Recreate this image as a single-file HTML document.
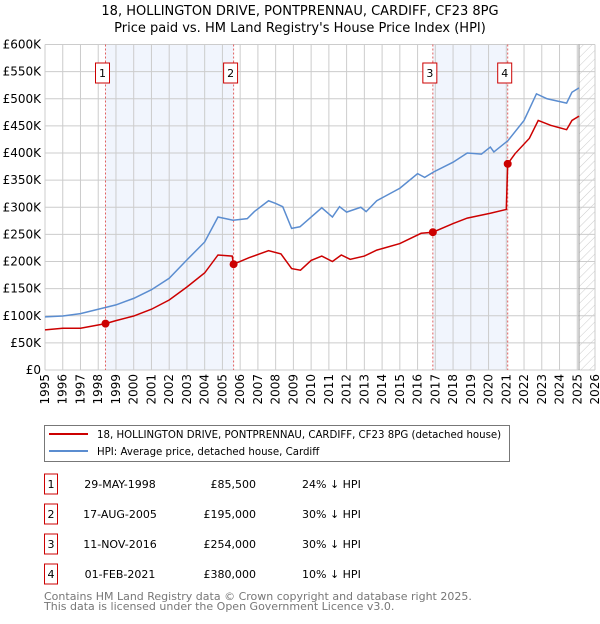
<!DOCTYPE html>
<html><head><meta charset="utf-8"><style>
body{margin:0;background:#fff;font-family:"DejaVu Sans","Liberation Sans",sans-serif;}
svg text{font-family:"DejaVu Sans","Liberation Sans",sans-serif;}
</style></head><body>
<svg id="chart" width="600" height="620" xmlns="http://www.w3.org/2000/svg">
<defs><pattern id="hatch" width="6" height="6" patternUnits="userSpaceOnUse" patternTransform="rotate(45)"><line x1="0" y1="0" x2="0" y2="6" stroke="#ccc" stroke-width="1"/></pattern></defs>
<text x="300" y="15" text-anchor="middle" font-size="13">18, HOLLINGTON DRIVE, PONTPRENNAU, CARDIFF, CF23 8PG</text>
<text x="300" y="32" text-anchor="middle" font-size="13">Price paid vs. HM Land Registry's House Price Index (HPI)</text>
<g id="plot"></g>
<g>
<rect x="44.5" y="425.5" width="465" height="36" fill="#fff" stroke="#777"/>
<line x1="49" y1="434" x2="88" y2="434" stroke="#cc0000" stroke-width="2"/>
<text x="97" y="438" font-size="10.2">18, HOLLINGTON DRIVE, PONTPRENNAU, CARDIFF, CF23 8PG (detached house)</text>
<line x1="49" y1="451" x2="88" y2="451" stroke="#5b8dd0" stroke-width="2"/>
<text x="97" y="455" font-size="10.2">HPI: Average price, detached house, Cardiff</text>
</g>
<g id="table"></g>
<text x="44" y="600" font-size="11" fill="#777">Contains HM Land Registry data © Crown copyright and database right 2025.</text>
<text x="44" y="610" font-size="11" fill="#777">This data is licensed under the Open Government Licence v3.0.</text>
</svg>
<script>
const yTicks=[0,50,100,150,200,250,300,350,400,450,500,550,600];
const hpiYears=[1995,1996,1997,1998,1999,2000,2001,2002,2003,2004,2004.75,2005.6,2006.4,2006.8,2007.6,2008,2008.4,2008.9,2009.37,2010,2010.6,2011.2,2011.6,2012,2012.8,2013.1,2013.7,2015,2016,2016.4,2016.9,2018,2018.8,2019.6,2020.1,2020.3,2021.1,2022,2022.7,2023.3,2024.4,2024.7,2025.1];
const hpiValues=[98,99.5,104,112,120,132,148,169,203,236,282,276,279,292,312,307,301,261,264,282,299,282,301,291,300,292,312,335,362,355,365,383,400,398,411,402,423,460,509,500,492,512,520];
const ppYears=[1995,1996,1997,1998.41,1999,2000,2001,2002,2003,2004,2004.75,2005.55,2005.63,2006.5,2007.6,2008.3,2008.9,2009.4,2010,2010.6,2011.2,2011.7,2012.2,2013,2013.7,2015,2016.2,2016.86,2018,2018.8,2020.1,2021.0,2021.08,2021.5,2022.3,2022.8,2023.5,2024.4,2024.7,2025.1];
const ppValues=[74,77,77,85.5,91,99.5,112,129,153,179,212,210,195,207,220,214,187,184,202,210,200,212,204,210,221,233,252,254,270,280,289,296,380,399,427,460,451,443,460,468];
const saleYears=[1998.41,2005.63,2016.86,2021.08];
const saleValues=[85.5,195,254,380];
const saleDates=["29-MAY-1998","17-AUG-2005","11-NOV-2016","01-FEB-2021"];
const salePrices=["£85,500","£195,000","£254,000","£380,000"];
const salePct=["24% ↓ HPI","30% ↓ HPI","30% ↓ HPI","10% ↓ HPI"];
const X0=45,X1=595,Y0=370,Y1=44.5;
const xs=y=>X0+(y-1995)/31*(X1-X0);
const ys=v=>Y0-v/600*(Y0-Y1);
const NS="http://www.w3.org/2000/svg";
const g=document.getElementById('plot');
function mk(t,a,p){const e=document.createElementNS(NS,t);for(const k in a)e.setAttribute(k,a[k]);(p||g).appendChild(e);return e;}
for(const [a,b] of [[0,1],[2,3]]){const r=mk('rect',{x:xs(saleYears[a]),y:Y1,width:xs(saleYears[b])-xs(saleYears[a]),height:Y0-Y1,fill:'#eef3fc',opacity:0.8});

}
const h=mk('rect',{x:xs(2025.1),y:Y1,width:X1-xs(2025.1),height:Y0-Y1,fill:'url(#hatch)'});


for(let yr=1995;yr<=2026;yr++){const l=mk('line',{x1:xs(yr),x2:xs(yr),y1:Y1,y2:Y0,stroke:'#ccc','stroke-width':1});


const t=mk('text',{x:0,y:0,'font-size':12,'text-anchor':'end',transform:`translate(${xs(yr)+4},374) rotate(-90)`});t.textContent=yr;

}
for(const v of yTicks){const l=mk('line',{x1:X0,x2:X1,y1:ys(v),y2:ys(v),stroke:'#ccc','stroke-width':1});


const t=mk('text',{x:41,y:ys(v)+4,'font-size':12,'text-anchor':'end'});t.textContent=v===0?'£0':'£'+v+'K';

}
const nl=mk('line',{x1:xs(2025.1),x2:xs(2025.1),y1:Y1,y2:Y0,stroke:'#999','stroke-width':1});


saleYears.forEach((yr,i)=>{const l=mk('line',{x1:xs(yr),x2:xs(yr),y1:Y1,y2:Y0,stroke:'#e06060','stroke-width':1,'stroke-dasharray':'2,2'});


const r=mk('rect',{x:xs(yr)-10,y:63,width:14,height:20,fill:'#fff',stroke:'#cc0000'});


const t=mk('text',{x:xs(yr)-3,y:77,'font-size':11,'text-anchor':'middle'});t.textContent=i+1;

});
const hp=mk('polyline',{points:hpiYears.map((y,i)=>xs(y)+','+ys(hpiValues[i])).join(' '),fill:'none',stroke:'#5b8dd0','stroke-width':1.5});


const pp=mk('polyline',{points:ppYears.map((y,i)=>xs(y)+','+ys(ppValues[i])).join(' '),fill:'none',stroke:'#cc0000','stroke-width':1.5});


saleYears.forEach((yr,i)=>{const c=mk('circle',{cx:xs(yr),cy:ys(saleValues[i]),r:4,fill:'#cc0000'});

});
const tb=document.getElementById('table');
saleDates.forEach((d,i)=>{const cy=484+i*30;
const r=mk('rect',{x:44.5,y:cy-10,width:13,height:20,fill:'#fff',stroke:'#cc0000'},tb);


const n=mk('text',{x:51,y:cy+4,'font-size':11,'text-anchor':'middle'},tb);n.textContent=i+1;


const a=mk('text',{x:120,y:cy+4,'font-size':11,'text-anchor':'middle'},tb);a.textContent=d;


const p=mk('text',{x:256,y:cy+4,'font-size':11,'text-anchor':'end'},tb);p.textContent=salePrices[i];


const q=mk('text',{x:302,y:cy+4,'font-size':11},tb);q.textContent=salePct[i];

});
</script>
</body></html>
